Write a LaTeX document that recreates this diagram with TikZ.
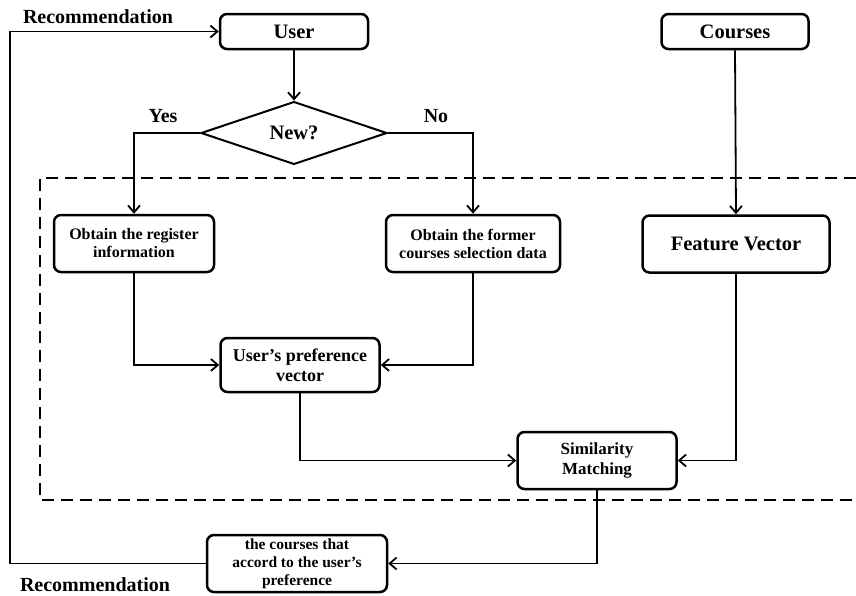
\documentclass[tikz,border=0pt]{standalone}
\usepackage{fontspec}
\setmainfont{Liberation Serif}
\usetikzlibrary{arrows.meta,positioning,shapes.geometric}
\tikzset{
  box/.style={draw, rounded corners=7pt, line width=2.5pt, align=center, inner sep=2pt, font=\bfseries\fontsize{16}{18}\selectfont},
  bigbox/.style={box, font=\bfseries\fontsize{20.5}{22}\selectfont},
  decide/.style={diamond, draw, line width=2pt, inner sep=0pt, font=\bfseries\fontsize{20.5}{22}\selectfont},
  tag/.style={inner sep=0pt, font=\bfseries\fontsize{20}{22}\selectfont},
  link/.style={-{Straight Barb[length=7pt,width=12pt]}, line width=1.8pt},
  zone/.style={line width=2pt, dash pattern=on 12pt off 7pt},
}
\begin{document}
\begin{tikzpicture}[x=1pt,y=-1pt]
  \useasboundingbox (0,0) rectangle (856,595);
  % dashed zone, open on the right
  \draw[zone] (856,178) -- (40,178) -- (40,500) -- (856,500);
  % top row
  \node[bigbox, minimum width=148pt, minimum height=35pt] (user) at (294,31.5) {User};
  \node[bigbox, minimum width=147pt, minimum height=35pt] (courses) at (735,31.5) {Courses};
  \node[decide, minimum width=186pt, minimum height=56pt] (new) at (294,133) {New?};
  \node[tag] (yes) at (163,116) {Yes};
  \node[tag] (no) at (436,116) {No};
  % inside the zone
  \node[box, minimum width=160pt, minimum height=57pt] (reg) at (134,243.5) {Obtain the register\\information};
  \node[box, minimum width=174pt, minimum height=57pt] (former) at (473,243.5) {Obtain the former\\courses selection data};
  \node[bigbox, minimum width=187pt, minimum height=57pt] (feat) at (736,244) {Feature Vector};
  \node[box, minimum width=159pt, minimum height=54pt, font=\bfseries\fontsize{18}{20}\selectfont] (pref) at (300,365) {User's preference\\vector};
  \node[box, minimum width=159pt, minimum height=57pt, font=\bfseries\fontsize{17}{20}\selectfont] (sim) at (597,460.5) {Similarity\\Matching};
  % output
  \node[box, minimum width=180pt, minimum height=57pt, inner sep=0pt, font=\bfseries\fontsize{15.5}{18}\selectfont] (rec) at (297,563.5) {the courses that\\accord to the user's\\preference};
  \node[tag] (recup) at (98,17) {Recommendation};
  \node[tag] (recdown) at (95,585) {Recommendation};
  \coordinate (back) at (10,563.5);
  % connectors
  \draw[link] (user) -- (new);
  \draw[link] (new.west) -| (reg.north);
  \draw[link] (new.east) -| (former.north);
  \draw[link] (courses.south) -- (feat.north);
  \draw[link] (reg.south) |- (pref.west);
  \draw[link] (former.south) |- (pref.east);
  \draw[link] (pref.south) |- (sim.west);
  \draw[link] (feat.south) |- (sim.east);
  \draw[link] (sim.south) |- (rec.east);
  \draw[link] (rec.west) -- (back) |- (user.west);
\end{tikzpicture}
\end{document}
